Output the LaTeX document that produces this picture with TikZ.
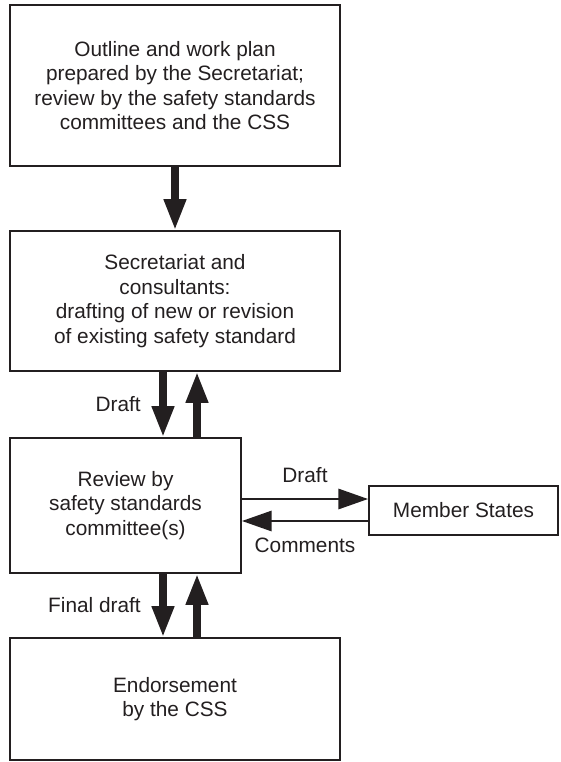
\documentclass[tikz,border=0pt]{standalone}
\usepackage{fontspec}
\setmainfont{Liberation Sans}
\usetikzlibrary{arrows.meta}
\definecolor{ink}{RGB}{35,31,32}

\begin{document}
\begin{tikzpicture}[x=0.025cm,y=-0.025cm,
    box/.style={draw=ink,line width=1.4pt,align=center,text=ink,font=\fontsize{14.8}{17.4}\selectfont},
    lbl/.style={text=ink,font=\fontsize{14.8}{17.4}\selectfont},
    flow/.style={ink,line width=5pt,-{Triangle[width=15pt,length=22pt]}},
    msg/.style={ink,line width=1.1pt,-{Triangle[width=14.5pt,length=21pt]}}]
  \useasboundingbox (0,0) rectangle (560,762);

  % boxes
  \node[box,minimum width=8.25cm,minimum height=4.025cm] (outline) at (175,85.5)
    {Outline and work plan\\prepared by the Secretariat;\\review by the safety standards\\committees and the CSS};
  \node[box,minimum width=8.25cm,minimum height=3.5cm] (drafting) at (175,301)
    {Secretariat and\\consultants:\\drafting of new or revision\\of existing safety standard};
  \node[box,minimum width=5.775cm,minimum height=3.375cm] (review) at (125.5,505.5)
    {Review by\\safety standards\\committee(s)};
  \node[box,minimum width=4.725cm,minimum height=1.225cm] (states) at (463.5,510.5)
    {Member States};
  \node[box,minimum width=8.25cm,minimum height=3.05cm] (endorse) at (175,699)
    {Endorsement\\by the CSS};

  % columns and rows of the connectors
  \coordinate (dn) at (163,0);
  \coordinate (up) at (197,0);
  \coordinate (out) at (0,499);
  \coordinate (back) at (0,521);

  \draw[flow] (outline.south) -- (drafting.north);

  \draw[flow] (dn |- drafting.south) -- node[lbl,left=10pt] {Draft} (dn |- review.north);
  \draw[flow] (up |- review.north) -- (up |- drafting.south);

  \draw[flow] (dn |- review.south) -- node[lbl,left=10pt] {Final draft} (dn |- endorse.north);
  \draw[flow] (up |- endorse.north) -- (up |- review.south);

  \draw[msg] (out -| review.east) -- node[lbl,above=8pt] {Draft} (out -| states.west);
  \draw[msg] (back -| states.west) -- node[lbl,below=8pt] {Comments} (back -| review.east);
\end{tikzpicture}
\end{document}
